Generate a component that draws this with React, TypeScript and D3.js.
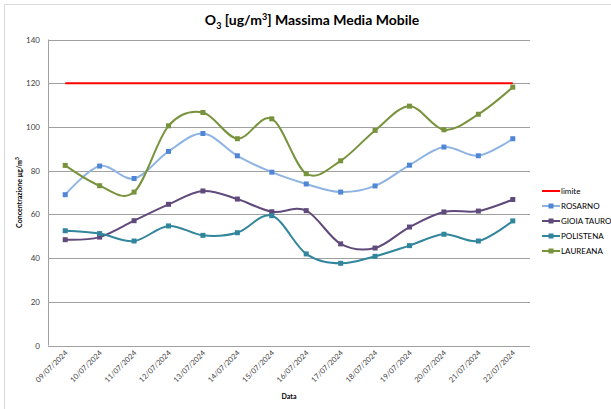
import React from 'react';
import * as d3 from 'd3';

// chart data
const dates = [
  '09/07/2024', '10/07/2024', '11/07/2024', '12/07/2024', '13/07/2024', '14/07/2024', '15/07/2024',
  '16/07/2024', '17/07/2024', '18/07/2024', '19/07/2024', '20/07/2024', '21/07/2024', '22/07/2024',
];
const limite = [120, 120, 120, 120, 120, 120, 120, 120, 120, 120, 120, 120, 120, 120];
const rosarno = [69, 82.1, 76.4, 88.8, 97, 86.8, 79.3, 73.9, 70.2, 73, 82.5, 90.8, 86.8, 94.6];
const gioiaTauro = [48.4, 49.6, 57.1, 64.6, 70.7, 67, 61.2, 61.7, 46.5, 44.6, 54.2, 61.1, 61.5, 66.8];
const polistena = [52.5, 51.2, 47.8, 54.7, 50.4, 51.6, 59.4, 41.9, 37.6, 40.8, 45.7, 50.9, 47.8, 57];
const laureana = [82.4, 73.1, 70.2, 100.5, 106.6, 94.6, 103.7, 78.6, 84.5, 98.4, 109.5, 98.7, 105.8, 118.2];
const yTicks = [0, 20, 40, 60, 80, 100, 120, 140];

const series = [
  { name: 'limite', values: limite, line: '#FF0000', marker: null },
  { name: 'ROSARNO', values: rosarno, line: '#8DB4E2', marker: '#4F86D6' },
  { name: 'GIOIA TAURO', values: gioiaTauro, line: '#604A7B', marker: '#604A7B' },
  { name: 'POLISTENA', values: polistena, line: '#31859C', marker: '#31859C' },
  { name: 'LAUREANA', values: laureana, line: '#77933C', marker: '#77933C' },
];

const W = 611;
const H = 409;
const FONT = 'Lato, "Open Sans", sans-serif';

export default function App() {
  const left = 48;
  const right = 530;
  const top = 39.5;
  const bottom = 345.5;

  const x = d3.scaleBand().domain(dates).range([left, right]);
  const y = d3.scaleLinear().domain([0, 140]).range([bottom, top]);
  const cx = (d: string) => (x(d) as number) + x.bandwidth() / 2;

  // excel-like smoothed line
  const lineGen = d3.line<number>()
    .x((d, i) => cx(dates[i]))
    .y(d => y(d))
    .curve(d3.curveCatmullRom.alpha(0));

  return (
    <svg width={W} height={H} style={{ position: 'absolute', left: 0, top: 0 }}>
      <rect x={0} y={0} width={W} height={H} fill="#fff" />
      <rect x={4.5} y={4.5} width={W + 10} height={H + 10} fill="none" stroke="#d9d9d9" />

      <text x={312} y={25} textAnchor="middle" fontFamily={FONT} fontWeight="bold" fontSize={14} fill="#000">
        O<tspan fontSize={9} dy={4}>3</tspan><tspan dy={-4}> [ug/m</tspan><tspan fontSize={9} dy={-5}>3</tspan><tspan dy={5}>] Massima Media Mobile</tspan>
      </text>

      {/* grid + y axis */}
      <g>
        {yTicks.map(t => (
          <g key={t}>
            <line x1={left} x2={right} y1={Math.round(y(t)) + 0.5} y2={Math.round(y(t)) + 0.5} stroke="#a0a0a0" strokeWidth={1} />
            <text x={left - 8} y={y(t) + 3} textAnchor="end" fontFamily={FONT} fontSize={8} fill="#404040">{t}</text>
          </g>
        ))}
        <line x1={left + 0.5} x2={left + 0.5} y1={top} y2={bottom} stroke="#a0a0a0" />
      </g>

      {/* x labels */}
      <g>
        {dates.map(d => (
          <text key={d} transform={`translate(${cx(d) + 3},${bottom + 8}) rotate(-45)`} textAnchor="end"
            fontFamily={FONT} fontSize={7.5} fill="#404040">{d}</text>
        ))}
      </g>
      <text x={289} y={399} textAnchor="middle" fontFamily={FONT} fontWeight="bold" fontSize={7} fill="#000">Data</text>
      <text transform={`translate(22,${(top + bottom) / 2}) rotate(-90)`} textAnchor="middle"
        fontFamily={FONT} fontWeight="bold" fontSize={7} fill="#000">
        Concentrazione µg/m<tspan fontSize={5} dy={-3}>3</tspan>
      </text>

      {/* series */}
      {series.map(s => (
        <g key={s.name}>
          <path d={lineGen(s.values) || ''} fill="none" stroke={s.line} strokeWidth={2} />
          {s.marker && s.values.map((v, i) => (
            <rect key={i} x={cx(dates[i]) - 2.5} y={y(v) - 2.5} width={5} height={5} fill={s.marker} />
          ))}
        </g>
      ))}

      {/* legend */}
      <g>
        {series.map((s, i) => {
          const ly = 191 + i * 15;
          return (
            <g key={s.name}>
              <line x1={542} x2={560} y1={ly} y2={ly} stroke={s.line} strokeWidth={2} />
              {s.marker && <rect x={548.5} y={ly - 2.5} width={5} height={5} fill={s.marker} />}
              <text x={561} y={ly + 3} fontFamily={FONT} fontSize={8} fill="#000">{s.name}</text>
            </g>
          );
        })}
      </g>
    </svg>
  );
}
